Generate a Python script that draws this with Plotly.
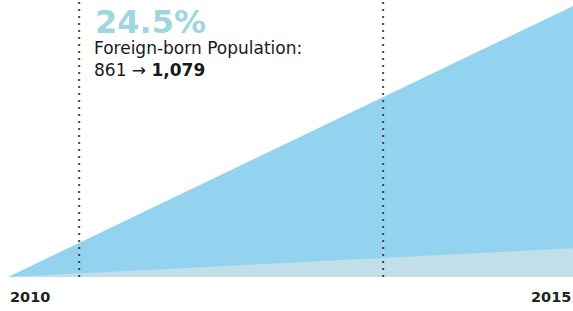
import plotly.graph_objects as go

years = [2010, 2015]
foreign_growth = [0, 24.5]
native_growth = [0, 2.6]
tick_labels = ["2010", "2015"]
marker_years = [2010.63, 2013.32]
headline = "24.5%"
subtitle = "Foreign-born Population:"
change_from = "861"
change_to = "1,079"

fig = go.Figure()
fig.add_trace(go.Scatter(x=years, y=foreign_growth, fill="tozeroy", mode="none",
                         fillcolor="rgb(147,211,240)", hoverinfo="skip"))
fig.add_trace(go.Scatter(x=years, y=native_growth, fill="tozeroy", mode="none",
                         fillcolor="rgb(192,223,232)", hoverinfo="skip"))

for mx in marker_years:
    fig.add_shape(type="line", x0=mx, x1=mx, y0=0, y1=1, yref="paper", xref="x",
                  line=dict(color="#444444", width=2, dash="2px,5px"), layer="above")

fig.add_annotation(x=marker_years[0], xref="x", xshift=14, y=1, yref="paper", yshift=-1,
                   text=f"<b>{headline}</b>", showarrow=False, xanchor="left", yanchor="top",
                   font=dict(family="DejaVu Sans", size=32, color="rgb(160,214,224)"))
fig.add_annotation(x=marker_years[0], xref="x", xshift=13, y=1, yref="paper", yshift=-36,
                   text=f"{subtitle}<br>{change_from} → <b>{change_to}</b>", showarrow=False,
                   xanchor="left", yanchor="top", align="left",
                   font=dict(family="DejaVu Sans", size=17, color="#1a1a1a"))

fig.add_annotation(x=years[0], xref="x", y=0, yref="paper", yshift=-10, text=f"<b>{tick_labels[0]}</b>",
                   showarrow=False, xanchor="left", yanchor="top",
                   font=dict(family="DejaVu Sans", size=14.5, color="#222222"))
fig.add_annotation(x=years[1], xref="x", y=0, yref="paper", yshift=-10, text=f"<b>{tick_labels[1]}</b>",
                   showarrow=False, xanchor="right", yanchor="top",
                   font=dict(family="DejaVu Sans", size=14.5, color="#222222"))

fig.update_layout(
    width=573, height=311,
    margin=dict(l=0, r=0, t=0, b=34),
    paper_bgcolor="white", plot_bgcolor="white",
    showlegend=False,
    xaxis=dict(range=[2010 - 8 / 113, 2015], visible=False, fixedrange=True),
    yaxis=dict(range=[0, 24.5 * 277 / 271], visible=False, fixedrange=True),
)
fig.write_html("out.html", config={"displayModeBar": False},
               post_script="document.body.style.margin='0';document.body.style.overflow='hidden';")
